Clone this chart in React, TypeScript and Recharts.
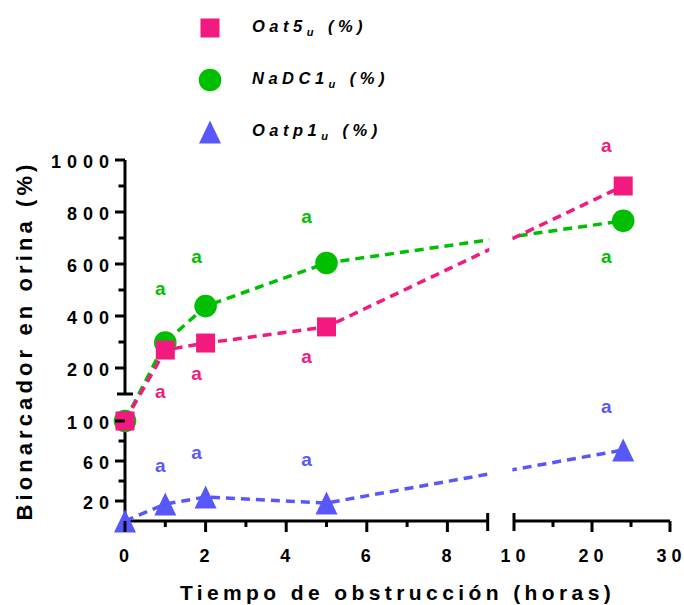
import React from 'react';
import {
  ComposedChart,
  Line,
  XAxis,
  YAxis,
  ReferenceLine,
  ReferenceArea,
  Legend,
  Label,
} from 'recharts';

const hours = [0, 1, 2, 5, 24];
const oat5 = [100, 269, 296, 358, 900];
const nadc1 = [100, 298, 438, 604, 766];
const oatp1 = [0, 17, 24, 18, 71];

const xMajor = [0, 2, 4, 6, 8, 10, 20, 30];
const xMinor = [1, 3, 5, 7, 15, 25];
const yMajor = [20, 60, 100, 200, 400, 600, 800, 1000];
const yMinor = [40, 80, 300, 500, 700, 900];

// significance letter shown next to each mean (none at time 0)
const sigLetters = ['', 'a', 'a', 'a', 'a'];

const PINK = '#F2197F';
const GREEN = '#00BF00';
const BLUE = '#5858FA';
const FONT = '"Liberation Sans", Arial, Helvetica, sans-serif';

// broken axes -> one continuous display coordinate per axis
const X_END_LEFT = 9;
const X_START_RIGHT = 10;
const xPos = (h: number) => (h <= X_END_LEFT ? h * 40.3 : 389 + (h - X_START_RIGHT) * 7.8);
const Y_TOP_LOWER = 110;
const Y_START_UPPER = 100;
const yUpper = (v: number) => 153 + (v - 200) * 0.26;
const yPos = (v: number) => (v <= Y_TOP_LOWER ? v : yUpper(v));

const X_MAX = xPos(30);
const Y_MAX = yPos(1000);

// label placement next to the points (px)
const sigDx = [0, -5, -9, -20, -17];
const sigDy = {
  oat5: [0, 42, 31, 31, -40],
  nadc1: [0, -53, -49, -45, 37],
  oatp1: [0, -38, -44, -43, -43],
};

const rows = hours.map((h, i) => ({
  xd: xPos(h),
  oat5: yPos(oat5[i]),
  nadc1: yPos(nadc1[i]),
  oatp1: yPos(oatp1[i]),
}));

const xTickInfo = [
  ...xMajor.map((v) => ({ pos: xPos(v), label: String(v), kind: v === X_START_RIGHT ? 'breakLabel' : 'major' })),
  ...xMinor.map((v) => ({ pos: xPos(v), label: '', kind: 'minor' })),
  { pos: xPos(X_END_LEFT), label: '', kind: 'break' },
];

const yTickInfo = [
  ...yMajor.map((v) => ({ pos: yPos(v), label: String(v), kind: 'major' })),
  ...yMinor.map((v) => ({ pos: yPos(v), label: '', kind: 'minor' })),
  { pos: yUpper(Y_START_UPPER), label: '', kind: 'break' },
];

const tickText = {
  fontFamily: FONT,
  fontSize: 18,
  fontWeight: 700,
  fill: '#000',
};

// spaced digits without a trailing gap after the last one
function Spaced({ text, gap }: { text: string; gap: number }) {
  return (
    <>
      <tspan style={{ letterSpacing: gap }}>{text.slice(0, -1)}</tspan>
      {text.slice(-1)}
    </>
  );
}

function XTick(props: any) {
  const { x, y, payload } = props;
  const t = xTickInfo.find((d) => Math.abs(d.pos - payload.value) < 1e-6);
  if (!t) return null;
  const isBreak = t.kind === 'break' || t.kind === 'breakLabel';
  const y1 = isBreak ? y - 8 : y;
  const y2 = isBreak ? y + 10 : t.kind === 'major' ? y + 11 : y + 6;
  return (
    <g>
      <line x1={x} x2={x} y1={y1} y2={y2} stroke="#000" strokeWidth={3} />
      {t.label && (
        <text x={x - 1} y={y + 41} textAnchor="middle" style={tickText}>
          <Spaced text={t.label} gap={5} />
        </text>
      )}
    </g>
  );
}

function YTick(props: any) {
  const { x, y, payload } = props;
  const t = yTickInfo.find((d) => Math.abs(d.pos - payload.value) < 1e-6);
  if (!t) return null;
  if (t.kind === 'break') {
    return <line x1={x - 8} x2={x + 8} y1={y} y2={y} stroke="#000" strokeWidth={3} />;
  }
  const len = t.kind === 'major' ? 10 : 6.5;
  return (
    <g>
      <line x1={x - len} x2={x} y1={y} y2={y} stroke="#000" strokeWidth={3} />
      {t.label && (
        <text x={x - 16} y={y + 7.5} textAnchor="end" style={tickText}>
          <Spaced text={t.label} gap={6} />
        </text>
      )}
    </g>
  );
}

function Marker({ shape, cx, cy, color }: any) {
  if (shape === 'square') return <rect x={cx - 9.5} y={cy - 9.5} width={19} height={19} fill={color} />;
  if (shape === 'circle') return <circle cx={cx} cy={cy} r={11.3} fill={color} />;
  return <polygon points={`${cx},${cy - 11.5} ${cx - 11},${cy + 11.5} ${cx + 11},${cy + 11.5}`} fill={color} />;
}

const makeDot = (shape: string, color: string, dys: number[]) => (props: any) => {
  const { cx, cy, index } = props;
  if (cx == null || cy == null) return <g key={`d-${index}`} />;
  return (
    <g key={`d-${index}`}>
      <Marker shape={shape} cx={cx} cy={cy} color={color} />
      {sigLetters[index] && (
        <text
          x={cx + sigDx[index]}
          y={cy + dys[index] + 5.5}
          textAnchor="middle"
          fill={color}
          style={{ fontFamily: FONT, fontSize: 19, fontWeight: 700 }}
        >
          {sigLetters[index]}
        </text>
      )}
    </g>
  );
};

const legendItems = [
  { name: 'Oat5', shape: 'square', color: PINK },
  { name: 'NaDC1', shape: 'circle', color: GREEN },
  { name: 'Oatp1', shape: 'triangle', color: BLUE },
];

function LegendBox() {
  return (
    <div style={{ fontFamily: FONT }}>
      {legendItems.map((item) => (
        <div key={item.name} style={{ display: 'flex', alignItems: 'center', height: 52 }}>
          <svg width={24} height={26}>
            <Marker shape={item.shape} cx={12} cy={13} color={item.color} />
          </svg>
          <span
            style={{
              marginLeft: 30,
              fontSize: 16.5,
              fontWeight: 700,
              fontStyle: 'italic',
              letterSpacing: 4.5,
              color: '#000',
              whiteSpace: 'nowrap',
            }}
          >
            {item.name}
            <sub style={{ fontSize: 11 }}>u</sub>
            <span style={{ marginLeft: 10 }}>(%)</span>
          </span>
        </div>
      ))}
    </div>
  );
}

function YTitle(props: any) {
  const vb = props.viewBox || { x: 5, y: 160, width: 120, height: 361 };
  const x = vb.x + 27;
  const y = vb.y + vb.height / 2;
  return (
    <text
      x={x}
      y={y}
      transform={`rotate(-90 ${x} ${y})`}
      textAnchor="middle"
      style={{ fontFamily: FONT, fontSize: 22, fontWeight: 700, letterSpacing: 4.1, fill: '#000' }}
    >
      Bionarcador en orina (%)
    </text>
  );
}

function XTitle(props: any) {
  const vb = props.viewBox || { x: 125, y: 521, width: 545, height: 84 };
  return (
    <text
      x={vb.x + vb.width / 2}
      y={vb.y + 79}
      textAnchor="middle"
      style={{ fontFamily: FONT, fontSize: 21, fontWeight: 700, letterSpacing: 4.4, fill: '#000' }}
    >
      Tiempo de obstrucción (horas)
    </text>
  );
}

export default function App() {
  return (
    <div style={{ position: 'absolute', left: 0, top: 0, background: '#fff' }}>
      <ComposedChart width={684} height={605} data={rows} margin={{ top: 160, right: 14, bottom: 0, left: 5 }}>
        <XAxis
          type="number"
          dataKey="xd"
          domain={[0, X_MAX]}
          ticks={xTickInfo.map((t) => t.pos)}
          interval={0}
          tick={(p: any) => <XTick {...p} />}
          tickSize={0}
          tickMargin={0}
          axisLine={false}
          tickLine={false}
          height={84}
        >
          <Label content={(p: any) => <XTitle {...p} />} />
        </XAxis>
        <YAxis
          type="number"
          domain={[0, Y_MAX]}
          ticks={yTickInfo.map((t) => t.pos)}
          interval={0}
          tick={(p: any) => <YTick {...p} />}
          tickSize={0}
          tickMargin={0}
          axisLine={false}
          tickLine={false}
          width={120}
        >
          <Label content={(p: any) => <YTitle {...p} />} />
        </YAxis>

        <ReferenceLine segment={[{ x: 0, y: 0 }, { x: 0, y: 109 }]} stroke="#000" strokeWidth={3} />
        <ReferenceLine
          segment={[{ x: 0, y: yUpper(Y_START_UPPER) }, { x: 0, y: Y_MAX }]}
          stroke="#000"
          strokeWidth={3}
        />
        <ReferenceLine segment={[{ x: 0, y: 0 }, { x: xPos(X_END_LEFT), y: 0 }]} stroke="#000" strokeWidth={3} />
        <ReferenceLine segment={[{ x: xPos(X_START_RIGHT), y: 0 }, { x: X_MAX, y: 0 }]} stroke="#000" strokeWidth={3} />

        <Line
          dataKey="nadc1"
          stroke={GREEN}
          strokeWidth={3.5}
          strokeDasharray="9 6"
          dot={makeDot('circle', GREEN, sigDy.nadc1)}
          activeDot={false}
          isAnimationActive={false}
        />
        <Line
          dataKey="oat5"
          stroke={PINK}
          strokeWidth={3.5}
          strokeDasharray="9 6"
          dot={makeDot('square', PINK, sigDy.oat5)}
          activeDot={false}
          isAnimationActive={false}
        />
        <Line
          dataKey="oatp1"
          stroke={BLUE}
          strokeWidth={3.5}
          strokeDasharray="9 6"
          dot={makeDot('triangle', BLUE, sigDy.oatp1)}
          activeDot={false}
          isAnimationActive={false}
        />

        {/* hide the dashed lines inside the x-axis break */}
        <ReferenceArea
          x1={xPos(X_END_LEFT) + 1.6}
          x2={xPos(X_START_RIGHT) - 1.6}
          y1={1}
          y2={Y_MAX}
          fill="#fff"
          fillOpacity={1}
          stroke="none"
          zIndex={1000}
        />

        <Legend
          layout="vertical"
          verticalAlign="middle"
          align="center"
          wrapperStyle={{ top: 2, left: 198 }}
          content={() => <LegendBox />}
        />
      </ComposedChart>
    </div>
  );
}
